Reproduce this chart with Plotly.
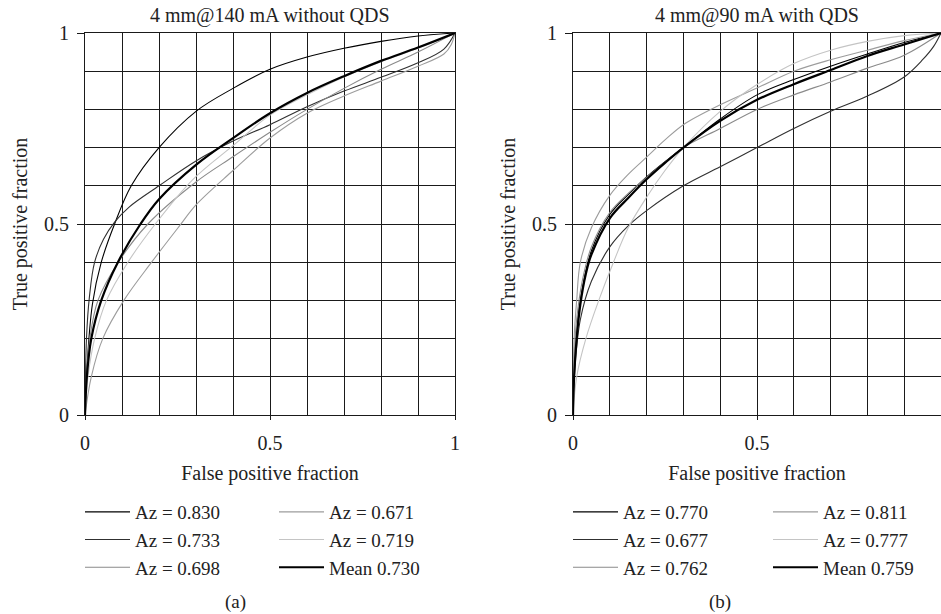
import plotly.graph_objects as go

# ---------------- data ----------------
# Panel (a): 4 mm@140 mA without QDS
a830_x = [0, 0.005, 0.02, 0.044, 0.08, 0.125, 0.2, 0.3, 0.4, 0.5, 0.6, 0.7, 0.8, 0.9, 1]
a830_y = [0, 0.12, 0.29, 0.40, 0.50, 0.60, 0.70, 0.795, 0.855, 0.905, 0.937, 0.96, 0.978, 0.992, 1]

a733_x = [0, 0.004, 0.012, 0.026, 0.05, 0.08, 0.12, 0.2, 0.3, 0.4, 0.5, 0.6, 0.7, 0.8, 0.9, 0.97, 1]
a733_y = [0, 0.2, 0.31, 0.40, 0.46, 0.505, 0.545, 0.60, 0.665, 0.717, 0.76, 0.807, 0.848, 0.884, 0.922, 0.958, 1]

a698_x = [0, 0.005, 0.013, 0.035, 0.09, 0.17, 0.3, 0.4, 0.5, 0.6, 0.7, 0.8, 0.9, 1]
a698_y = [0, 0.10, 0.20, 0.30, 0.40, 0.50, 0.61, 0.676, 0.74, 0.80, 0.855, 0.905, 0.95, 1]

a671_x = [0, 0.017, 0.048, 0.105, 0.18, 0.257, 0.3, 0.4, 0.5, 0.6, 0.7, 0.8, 0.9, 0.97, 0.99, 1]
a671_y = [0, 0.10, 0.20, 0.30, 0.40, 0.497, 0.55, 0.64, 0.725, 0.79, 0.835, 0.874, 0.913, 0.945, 0.97, 1]

a719_x = [0, 0.008, 0.026, 0.058, 0.116, 0.19, 0.29, 0.4, 0.5, 0.6, 0.7, 0.8, 0.9, 1]
a719_y = [0, 0.10, 0.20, 0.30, 0.40, 0.50, 0.615, 0.705, 0.785, 0.838, 0.885, 0.925, 0.96, 1]

amean_x = [0, 0.005, 0.017, 0.044, 0.089, 0.15, 0.2, 0.3, 0.4, 0.5, 0.6, 0.7, 0.8, 0.9, 1]
amean_y = [0, 0.10, 0.20, 0.30, 0.40, 0.50, 0.565, 0.655, 0.725, 0.79, 0.843, 0.887, 0.927, 0.962, 1]

# Panel (b): 4 mm@90 mA with QDS
b770_x = [0, 0.003, 0.01, 0.02, 0.05, 0.1, 0.15, 0.2, 0.25, 0.3, 0.4, 0.5, 0.6, 0.7, 0.8, 0.9, 1]
b770_y = [0, 0.11, 0.21, 0.30, 0.43, 0.525, 0.577, 0.623, 0.663, 0.70, 0.775, 0.838, 0.878, 0.913, 0.945, 0.975, 1]

b677_x = [0, 0.005, 0.02, 0.05, 0.1, 0.15, 0.2, 0.3, 0.4, 0.5, 0.6, 0.7, 0.8, 0.9, 0.95, 0.98, 1]
b677_y = [0, 0.12, 0.25, 0.35, 0.44, 0.495, 0.535, 0.60, 0.65, 0.70, 0.75, 0.795, 0.835, 0.885, 0.93, 0.965, 1]

b762_x = [0, 0.003, 0.01, 0.025, 0.05, 0.1, 0.15, 0.2, 0.25, 0.3, 0.4, 0.5, 0.6, 0.7, 0.8, 0.9, 1]
b762_y = [0, 0.15, 0.25, 0.35, 0.44, 0.53, 0.58, 0.622, 0.662, 0.70, 0.75, 0.80, 0.838, 0.872, 0.908, 0.942, 1]

b811_x = [0, 0.003, 0.01, 0.02, 0.05, 0.1, 0.15, 0.2, 0.25, 0.3, 0.4, 0.5, 0.6, 0.7, 0.8, 0.9, 1]
b811_y = [0, 0.20, 0.30, 0.40, 0.49, 0.575, 0.63, 0.675, 0.72, 0.76, 0.812, 0.856, 0.90, 0.93, 0.955, 0.98, 1]

b777_x = [0, 0.01, 0.035, 0.07, 0.11, 0.15, 0.2, 0.25, 0.3, 0.4, 0.5, 0.6, 0.7, 0.8, 0.9, 1]
b777_y = [0, 0.10, 0.20, 0.30, 0.40, 0.49, 0.57, 0.64, 0.70, 0.795, 0.865, 0.92, 0.955, 0.978, 0.993, 1]

bmean_x = [0, 0.003, 0.01, 0.02, 0.035, 0.05, 0.1, 0.15, 0.2, 0.25, 0.3, 0.4, 0.5, 0.6, 0.7, 0.8, 0.9, 1]
bmean_y = [0, 0.10, 0.20, 0.29, 0.37, 0.42, 0.515, 0.568, 0.617, 0.66, 0.70, 0.77, 0.825, 0.866, 0.903, 0.94, 0.97, 1]

a_labels = ["Az = 0.830", "Az = 0.733", "Az = 0.698", "Az = 0.671", "Az = 0.719", "Mean 0.730"]
b_labels = ["Az = 0.770", "Az = 0.677", "Az = 0.762", "Az = 0.811", "Az = 0.777", "Mean 0.759"]
titles = ["4 mm@140 mA without QDS", "4 mm@90 mA with QDS"]
panel_tags = ["(a)", "(b)"]
major_ticks = [0, 0.5, 1]
major_text = ["0", "0.5", "1"]
minor_ticks = [0.1, 0.2, 0.3, 0.4, 0.6, 0.7, 0.8, 0.9]

# ---------------- styling ----------------
FONT = "Liberation Serif"
TXT = "#222222"
GRID = "#1a1a1a"
colors = ["#000000", "#303030", "#8a8a8a", "#9c9c9c", "#c4c4c4", "#000000"]
widths = [1.1, 1.1, 1.1, 1.1, 1.1, 2.2]

W, H = 941, 614
fig = go.Figure()

panels = [
    ([a830_x, a733_x, a698_x, a671_x, a719_x, amean_x],
     [a830_y, a733_y, a698_y, a671_y, a719_y, amean_y], a_labels, "x", "y", ["legend", "legend2"]),
    ([b770_x, b677_x, b762_x, b811_x, b777_x, bmean_x],
     [b770_y, b677_y, b762_y, b811_y, b777_y, bmean_y], b_labels, "x2", "y2", ["legend3", "legend4"]),
]

for xs, ys, labels, xa, ya, legs in panels:
    for i in range(6):
        fig.add_trace(go.Scatter(
            x=xs[i], y=ys[i], mode="lines", name=labels[i],
            line=dict(color=colors[i], width=widths[i], shape="spline", smoothing=1.0),
            xaxis=xa, yaxis=ya, legend=legs[0] if i < 3 else legs[1],
            legendrank=i + 1, hoverinfo="skip"))

ydom = [(614 - 415) / H, (614 - 33) / H]
xdom_a = [85 / W, 455 / W]
xdom_b = [573 / W, 1.0]

def xaxis_cfg(dom, ticks, texts):
    return dict(
        domain=dom, range=[0, 1], tickmode="array", tickvals=ticks, ticktext=texts,
        showgrid=True, gridcolor=GRID, gridwidth=1, zeroline=False,
        showline=True, linecolor=GRID, linewidth=1, mirror=True,
        ticks="outside", ticklen=4, tickcolor=GRID, ticklabelstandoff=6,
        minor=dict(tickvals=minor_ticks, showgrid=True, gridcolor=GRID, gridwidth=1, ticks=""),
        tickfont=dict(family=FONT, size=20, color=TXT),
        title=dict(text="False positive fraction", font=dict(family=FONT, size=20, color=TXT), standoff=12),
        automargin=False, fixedrange=True)

def yaxis_cfg(anchor):
    return dict(
        domain=ydom, range=[0, 1], tickmode="array", tickvals=major_ticks, ticktext=major_text,
        showgrid=True, gridcolor=GRID, gridwidth=1, zeroline=False,
        showline=True, linecolor=GRID, linewidth=1, mirror=True,
        ticks="outside", ticklen=7, tickcolor=GRID, ticklabelstandoff=4,
        minor=dict(tickvals=minor_ticks, showgrid=True, gridcolor=GRID, gridwidth=1, ticks=""),
        tickfont=dict(family=FONT, size=20, color=TXT),
        title=dict(text="True positive fraction", font=dict(family=FONT, size=20, color=TXT), standoff=11),
        anchor=anchor, automargin=False, fixedrange=True)

leg_common = dict(xanchor="left", yanchor="top", bgcolor="rgba(0,0,0,0)",
                  font=dict(family=FONT, size=19, color=TXT), tracegroupgap=0,
                  orientation="v", traceorder="normal", itemwidth=45)
leg_y = (614 - 493) / H

fig.update_layout(
    width=W, height=H, margin=dict(l=0, r=0, t=0, b=0),
    paper_bgcolor="white", plot_bgcolor="white", showlegend=True,
    xaxis=dict(xaxis_cfg(xdom_a, major_ticks, major_text), anchor="y"),
    yaxis=yaxis_cfg("x"),
    xaxis2=dict(xaxis_cfg(xdom_b, [0, 0.5], ["0", "0.5"]), anchor="y2"),
    yaxis2=yaxis_cfg("x2"),
    legend=dict(leg_common, x=(85 - 5) / W, y=leg_y),
    legend2=dict(leg_common, x=(279 - 5) / W, y=leg_y),
    legend3=dict(leg_common, x=(573 - 5) / W, y=leg_y),
    legend4=dict(leg_common, x=(773 - 5) / W, y=leg_y),
)

for cx, t in zip([270 / W, 757 / W], titles):
    fig.add_annotation(x=cx, y=(614 - 15) / H, xref="paper", yref="paper", text=t,
                       showarrow=False, font=dict(family=FONT, size=20, color=TXT),
                       xanchor="center", yanchor="middle")
for cx, t in zip([235 / W, 720 / W], panel_tags):
    fig.add_annotation(x=cx, y=(614 - 602) / H, xref="paper", yref="paper", text=t,
                       showarrow=False, font=dict(family=FONT, size=19, color=TXT),
                       xanchor="center", yanchor="middle")

fig.write_html("out.html", config={"displayModeBar": False},
               post_script="document.body.style.margin='0px';document.body.style.overflow='hidden';")
